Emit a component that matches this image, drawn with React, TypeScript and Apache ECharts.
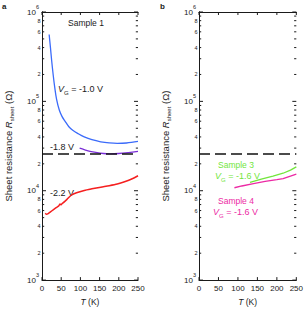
import React, { useEffect, useRef } from "react";
import * as echarts from "echarts";

// ---- data (raw values, Ω vs K) ----
const T_V10 = [18.6, 22, 25, 29, 33, 38, 45, 52, 60, 70, 80, 94, 110, 130, 153, 175, 196, 220, 250];
const R_V10 = [560000, 400000, 290000, 200000, 145000, 105000, 80000, 68000, 60000, 52000, 47500, 43500, 40000, 37200, 35300, 34300, 33900, 34200, 35600];

const T_V18 = [98, 110, 125, 140, 160, 178, 200, 225, 250];
const R_V18 = [29900, 28800, 27600, 26800, 26100, 25900, 26100, 26700, 27500];

const T_V22 = [8.5, 12, 16, 22, 30, 40, 44, 47, 49, 52, 58, 65, 76, 90, 110, 130, 153, 175, 196, 215, 235, 250];
const R_V22 = [5610, 5450, 5550, 5800, 6150, 6600, 6800, 7100, 6950, 7150, 7500, 8000, 8900, 9500, 10070, 10500, 10970, 11400, 11900, 12600, 13600, 14700];

const T_S3 = [131, 160, 190, 216, 235, 250];
const R_S3 = [12400, 13500, 14600, 15700, 17000, 18500];

const T_S4 = [91, 110, 140, 170, 200, 216, 235, 250];
const R_S4 = [10800, 11300, 12000, 12700, 13300, 13700, 14600, 15300];

const R_Q = 25800; // dashed reference line

const X_TICKS = [0, 50, 100, 150, 200, 250];
const DECADES = [3, 4, 5, 6];
const MINOR_LABELED = [2, 4, 6, 8];
const MINOR_ALL = [2, 3, 4, 5, 6, 7, 8, 9];

const FONT = "Liberation Sans, Arial, Helvetica, sans-serif";
const INK = "#1a1a1a";

const T_MIN = 0, T_MAX = 250, LOG_MIN = 3, LOG_MAX = 6;

const toPts = (T: number[], R: number[]) => T.map((t, i) => [t, Math.log10(R[i])]);

// tick records: [value, kind, labelled]; kind 0 = y major, 1 = y minor, 2 = x major
const tickData = () => {
  const out: number[][] = [];
  DECADES.forEach((d) => out.push([d, 0, 0]));
  for (let n = LOG_MIN; n < LOG_MAX; n++)
    MINOR_ALL.forEach((k) => out.push([Math.log10(k * Math.pow(10, n)), 1, MINOR_LABELED.includes(k) ? k : 0]));
  X_TICKS.forEach((t) => out.push([t, 2, 0]));
  return out;
};

export default function App() {
  const ref = useRef<HTMLDivElement>(null);
  useEffect(() => {
    if (!ref.current) return;
    const chart = echarts.init(ref.current, null, { renderer: "svg" });

    const rects = [
      { left: 40, top: 12, width: 98, height: 275 },
      { left: 199, top: 12, width: 98, height: 275 },
    ];

    const mainX = (gi: number) => [
      {
        type: "value", gridIndex: gi, position: "bottom", min: T_MIN, max: T_MAX, interval: 50,
        axisLine: { show: true, lineStyle: { color: INK, width: 1 } },
        axisTick: { show: false },
        axisLabel: { show: true, margin: 4, fontSize: 8, color: INK, fontFamily: FONT },
        splitLine: { show: false },
        name: "{i|T} (K)", nameLocation: "middle", nameGap: 12,
        nameTextStyle: { fontSize: 8.5, color: INK, fontFamily: FONT, rich: { i: { fontStyle: "italic", fontSize: 8.5, fontFamily: FONT, color: INK } } },
      },
      {
        type: "value", gridIndex: gi, position: "top", min: T_MIN, max: T_MAX, interval: 50,
        axisLine: { show: true, lineStyle: { color: INK, width: 1 } },
        axisTick: { show: false },
        axisLabel: { show: false },
        splitLine: { show: false },
      },
    ];

    const mainY = (gi: number) => [
      {
        type: "value", gridIndex: gi, position: "left", min: LOG_MIN, max: LOG_MAX, interval: 1,
        axisLine: { show: true, lineStyle: { color: INK, width: 1 } },
        axisTick: { show: false },
        axisLabel: {
          show: true, margin: 3, color: INK, fontFamily: FONT,
          formatter: (v: number) => `{b|10}{s|${Math.round(v)}}`,
          rich: {
            b: { fontSize: 8, lineHeight: 16, fontFamily: FONT, color: INK },
            s: { fontSize: 5.5, lineHeight: 8, verticalAlign: "top", fontFamily: FONT, color: INK },
          },
        },
        splitLine: { show: false },
        name: "Sheet resistance {i|R}{sub|sheet} (Ω)", nameLocation: "middle", nameGap: 27, nameRotate: 90,
        nameTextStyle: {
          fontSize: 9.5, color: INK, fontFamily: FONT, lineHeight: 14,
          rich: {
            i: { fontStyle: "italic", fontSize: 9.5, lineHeight: 14, fontFamily: FONT, color: INK },
            sub: { fontSize: 6, lineHeight: 8, verticalAlign: "bottom", fontFamily: FONT, color: INK },
          },
        },
      },
      {
        type: "value", gridIndex: gi, position: "right", min: LOG_MIN, max: LOG_MAX, interval: 1,
        axisLine: { show: true, lineStyle: { color: INK, width: 1 } },
        axisTick: { show: false },
        axisLabel: { show: false },
        splitLine: { show: false },
      },
    ];

    // inward ticks on all four sides + small minor labels, positioned through the axes' scales
    const tickSeries = (xi: number, yi: number) => ({
      type: "custom", xAxisIndex: xi, yAxisIndex: yi, silent: true, clip: false, z: 10,
      data: tickData(),
      renderItem: (_p: any, api: any) => {
        const v = api.value(0), kind = api.value(1), lab = api.value(2);
        const st = { stroke: INK, lineWidth: 1 };
        if (kind === 2) {
          const b = api.coord([v, LOG_MIN]);
          const t = api.coord([v, LOG_MAX]);
          return {
            type: "group",
            children: [
              { type: "line", shape: { x1: b[0], y1: b[1], x2: b[0], y2: b[1] - 3 }, style: st },
              { type: "line", shape: { x1: t[0], y1: t[1], x2: t[0], y2: t[1] + 3 }, style: st },
            ],
          };
        }
        const len = kind === 0 ? 4 : 2.2;
        const l = api.coord([T_MIN, v]);
        const r = api.coord([T_MAX, v]);
        const children: any[] = [
          { type: "line", shape: { x1: l[0], y1: l[1], x2: l[0] + len, y2: l[1] }, style: st },
          { type: "line", shape: { x1: r[0], y1: r[1], x2: r[0] - len, y2: r[1] }, style: st },
        ];
        if (kind === 1 && lab) {
          children.push({
            type: "text", x: l[0] - 1.5, y: l[1],
            style: { text: String(lab), fontSize: 5.5, fontFamily: FONT, fill: INK, align: "right", verticalAlign: "middle" },
          });
        }
        return { type: "group", children };
      },
    });

    const dashed = {
      silent: true, symbol: "none", label: { show: false },
      lineStyle: { type: [11, 5], color: "#111", width: 1.5 },
      data: [{ yAxis: Math.log10(R_Q) }],
    };

    const line = (name: string, T: number[], R: number[], color: string, xi: number, yi: number, smooth: number | boolean, extra: any = {}) => ({
      type: "line", name, xAxisIndex: xi, yAxisIndex: yi, data: toPts(T, R),
      showSymbol: false, symbol: "none", smooth, lineStyle: { color, width: 1.3 }, itemStyle: { color }, ...extra,
    });

    const vg = (val: string, color: string) => ({
      text: `{v|V}{g|G}{t| = ${val}}`,
      rich: {
        v: { fontStyle: "italic", fontSize: 9, lineHeight: 14, fontFamily: FONT, fill: color },
        g: { fontSize: 6, lineHeight: 8, verticalAlign: "bottom", fontFamily: FONT, fill: color },
        t: { fontSize: 9, lineHeight: 14, fontFamily: FONT, fill: color },
      },
    });

    const txt = (x: number, y: number, style: any) => ({
      type: "text", x, y, silent: true,
      style: { fontFamily: FONT, verticalAlign: "middle", align: "left", ...style },
    });

    chart.setOption({
      animation: false,
      grid: rects.map((r) => ({ ...r, containLabel: false })),
      xAxis: [...mainX(0), ...mainX(1)],
      yAxis: [...mainY(0), ...mainY(1)],
      series: [
        line("Vg -1.0 V", T_V10, R_V10, "#3b6bfa", 0, 0, 0.35, { markLine: dashed }),
        line("Vg -1.8 V", T_V18, R_V18, "#7a2ed6", 0, 0, 0.35),
        line("Vg -2.2 V", T_V22, R_V22, "#f51f1f", 0, 0, 0.25, { lineStyle: { color: "#f51f1f", width: 1.5 } }),
        line("Sample 3", T_S3, R_S3, "#72e63c", 2, 2, false, { markLine: dashed }),
        line("Sample 4", T_S4, R_S4, "#ec2aa4", 2, 2, false),
        tickSeries(0, 0),
        tickSeries(2, 2),
      ],
      graphic: [
        txt(2, 6, { text: "a", fontSize: 8, fontWeight: "bold", fill: INK }),
        txt(160, 6, { text: "b", fontSize: 8, fontWeight: "bold", fill: INK }),
        txt(68, 23, { text: "Sample 1", fontSize: 8.5, fill: INK }),
        txt(58, 89, vg("-1.0 V", INK)),
        txt(50, 147, { text: "-1.8 V", fontSize: 9, fill: INK }),
        txt(50, 193, { text: "-2.2 V", fontSize: 9, fill: INK }),
        txt(218, 165, { text: "Sample 3", fontSize: 8.5, fill: "#72e63c" }),
        txt(215, 176, vg("-1.6 V", "#72e63c")),
        txt(218, 201, { text: "Sample 4", fontSize: 8.5, fill: "#ec2aa4" }),
        txt(213, 212, vg("-1.6 V", "#ec2aa4")),
      ],
    });
    return () => chart.dispose();
  }, []);
  return <div ref={ref} style={{ position: "fixed", left: 0, top: 0, width: 306, height: 311, background: "#fff" }} />;
}
